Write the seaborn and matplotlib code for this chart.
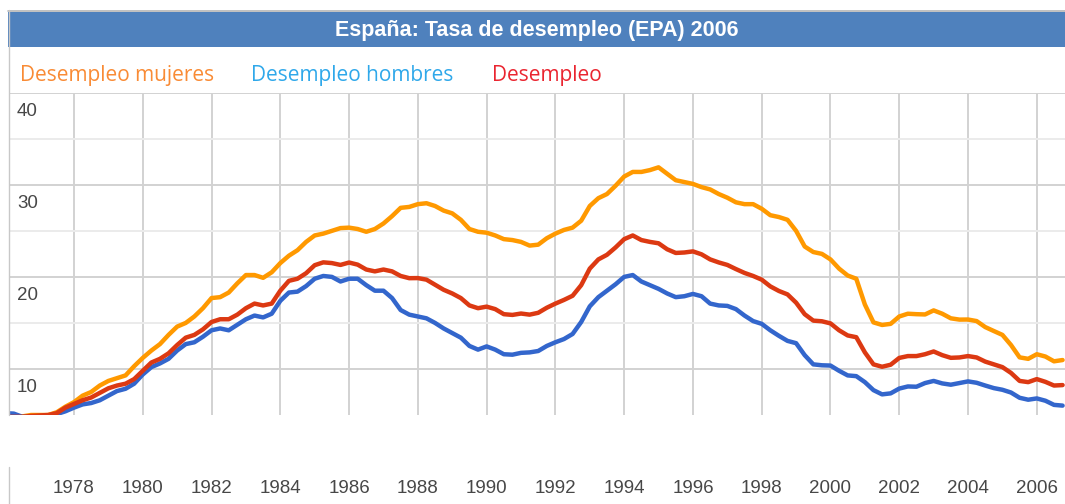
import matplotlib
matplotlib.use("Agg")
import matplotlib.pyplot as plt
from matplotlib.lines import Line2D
from matplotlib.patches import Rectangle
import pandas as pd
import seaborn as sns

# ------------------------------------------------------------------
# Datos: tasa de paro EPA por trimestre (4 valores por año, 1976-2006)
# ------------------------------------------------------------------
years = list(range(1976, 2007))
quarters = [y + q / 4 for y in years for q in range(4)]

paro_mujeres = [
    4.8, 4.8, 4.85, 5.0,      # 1976
    5.0, 5.0, 5.3, 5.9,       # 1977
    6.4, 7.1, 7.5, 8.2,       # 1978
    8.7, 9.0, 9.3, 10.3,      # 1979
    11.2, 12.0, 12.7, 13.7,   # 1980
    14.6, 15.0, 15.7, 16.6,   # 1981
    17.7, 17.8, 18.3, 19.3,   # 1982
    20.2, 20.2, 19.9, 20.5,   # 1983
    21.5, 22.3, 22.9, 23.8,   # 1984
    24.5, 24.7, 25.0, 25.3,   # 1985
    25.35, 25.2, 24.9, 25.2,  # 1986
    25.8, 26.6, 27.5, 27.6,   # 1987
    27.9, 28.0, 27.7, 27.2,   # 1988
    26.9, 26.2, 25.2, 24.9,   # 1989
    24.8, 24.5, 24.1, 24.0,   # 1990
    23.8, 23.4, 23.5, 24.2,   # 1991
    24.7, 25.1, 25.35, 26.1,  # 1992
    27.7, 28.55, 29.0, 29.9,  # 1993
    30.9, 31.4, 31.4, 31.6,   # 1994
    31.9, 31.2, 30.5, 30.3,   # 1995
    30.1, 29.75, 29.5, 29.0,  # 1996
    28.6, 28.1, 27.9, 27.9,   # 1997
    27.4, 26.7, 26.5, 26.2,   # 1998
    25.0, 23.3, 22.7, 22.5,   # 1999
    21.9, 20.9, 20.15, 19.8,  # 2000
    17.0, 15.06, 14.78, 14.9, # 2001
    15.7, 16.0, 15.95, 15.92, # 2002
    16.36, 16.0, 15.5, 15.36, # 2003
    15.37, 15.2, 14.55, 14.12, # 2004
    13.7, 12.6, 11.26, 11.1,  # 2005
    11.6, 11.35, 10.83, 10.97, # 2006
]

paro_hombres = [
    5.2, 5.15, 4.8, 4.8,      # 1976
    4.8, 4.85, 5.1, 5.4,      # 1977
    5.8, 6.15, 6.3, 6.6,      # 1978
    7.1, 7.6, 7.85, 8.4,      # 1979
    9.4, 10.2, 10.6, 11.1,    # 1980
    12.0, 12.7, 12.9, 13.5,   # 1981
    14.2, 14.4, 14.2, 14.8,   # 1982
    15.4, 15.8, 15.6, 16.0,   # 1983
    17.4, 18.3, 18.4, 19.0,   # 1984
    19.8, 20.1, 20.0, 19.5,   # 1985
    19.8, 19.8, 19.1, 18.5,   # 1986
    18.5, 17.7, 16.4, 15.9,   # 1987
    15.7, 15.5, 15.0, 14.4,   # 1988
    13.9, 13.4, 12.5, 12.1,   # 1989
    12.45, 12.1, 11.6, 11.55, # 1990
    11.75, 11.8, 11.95, 12.5, # 1991
    12.9, 13.25, 13.8, 15.1,  # 1992
    16.8, 17.8, 18.5, 19.2,   # 1993
    20.0, 20.2, 19.5, 19.1,   # 1994
    18.7, 18.2, 17.8, 17.9,   # 1995
    18.15, 17.9, 17.1, 16.9,  # 1996
    16.85, 16.5, 15.8, 15.2,  # 1997
    14.9, 14.2, 13.6, 13.05,  # 1998
    12.8, 11.5, 10.5, 10.4,   # 1999
    10.37, 9.8, 9.3, 9.22,    # 2000
    8.57, 7.7, 7.24, 7.35,    # 2001
    7.87, 8.1, 8.07, 8.47,    # 2002
    8.7, 8.43, 8.29, 8.47,    # 2003
    8.65, 8.5, 8.2, 7.92,     # 2004
    7.74, 7.44, 6.87, 6.66,   # 2005
    6.8, 6.55, 6.1, 6.02,     # 2006
]

paro_total = [
    4.8, 4.8, 4.8, 4.9,       # 1976
    4.95, 5.0, 5.2, 5.8,      # 1977
    6.2, 6.6, 6.9, 7.4,       # 1978
    7.9, 8.2, 8.4, 8.9,       # 1979
    9.8, 10.7, 11.1, 11.7,    # 1980
    12.6, 13.4, 13.7, 14.3,   # 1981
    15.1, 15.4, 15.4, 15.9,   # 1982
    16.6, 17.1, 16.9, 17.1,   # 1983
    18.5, 19.57, 19.8, 20.4,  # 1984
    21.27, 21.58, 21.5, 21.3, # 1985
    21.56, 21.33, 20.8, 20.6, # 1986
    20.8, 20.6, 20.1, 19.86,  # 1987
    19.87, 19.7, 19.15, 18.6, # 1988
    18.2, 17.7, 16.9, 16.6,   # 1989
    16.77, 16.5, 15.95, 15.87, # 1990
    16.02, 15.9, 16.1, 16.65, # 1991
    17.1, 17.5, 17.95, 19.1,  # 1992
    20.9, 21.9, 22.4, 23.2,   # 1993
    24.1, 24.5, 24.0, 23.8,   # 1994
    23.65, 23.0, 22.6, 22.65, # 1995
    22.77, 22.45, 21.9, 21.57, # 1996
    21.3, 20.85, 20.43, 20.1, # 1997
    19.7, 18.97, 18.47, 18.1, # 1998
    17.2, 15.95, 15.25, 15.18, # 1999
    14.95, 14.2, 13.64, 13.45, # 2000
    11.8, 10.5, 10.24, 10.46, # 2001
    11.2, 11.4, 11.4, 11.6,   # 2002
    11.9, 11.5, 11.21, 11.25, # 2003
    11.4, 11.25, 10.8, 10.5,  # 2004
    10.2, 9.57, 8.7, 8.57,    # 2005
    8.9, 8.6, 8.2, 8.25,      # 2006
]

series = ["Desempleo mujeres", "Desempleo hombres", "Desempleo"]
line_colors = ["#FF9900", "#3366CC", "#DC3912"]     # paleta por defecto de Google Charts
label_colors = ["#F98B35", "#2FA8EA", "#EA2530"]
x_ticks = list(range(1978, 2007, 2))
y_major = [10, 20, 30, 40]
y_minor = [15, 25, 35]

df = pd.DataFrame({
    "trimestre": quarters * 3,
    "tasa": paro_mujeres + paro_hombres + paro_total,
    "serie": [s for s in series for _ in quarters],
})

# ------------------------------------------------------------------
# Figura
# ------------------------------------------------------------------
sns.set_style("white")
plt.rcParams["font.family"] = ["Liberation Sans", "DejaVu Sans"]

W, H = 1065, 504
fig = plt.figure(figsize=(W / 100, H / 100), dpi=100)

# area del grafico en pixeles: x 9..1065, y 92.75..415
ax = fig.add_axes([9 / W, 1 - 415 / H, 1 - 9 / W, (415 - 92.75) / H])

sns.lineplot(data=df, x="trimestre", y="tasa", hue="serie", hue_order=series,
             palette=line_colors, linewidth=3.2, estimator=None, legend=False, ax=ax)

ax.set_xlim(1976.11, 2006.82)
ax.set_ylim(5, 40)
ax.set_xlabel("")
ax.set_ylabel("")

ax.set_xticks(x_ticks)
ax.set_xticklabels([str(t) for t in x_ticks])
ax.set_yticks(y_major)
ax.set_yticks(y_minor, minor=True)
ax.tick_params(axis="x", length=0, pad=46.5, labelsize=13.5, labelcolor="#474747")
ax.tick_params(axis="y", which="both", length=0, labelleft=False)

ax.grid(which="major", color="#d2d2d2", linewidth=1.4)
ax.grid(which="minor", axis="y", color="#ebebeb", linewidth=1.4)
ax.set_axisbelow(True)
for sp in ax.spines.values():
    sp.set_visible(False)

# etiquetas del eje y dentro del grafico, bajo cada linea
for v in y_major:
    ax.annotate(str(v), xy=(0, v), xycoords=ax.get_yaxis_transform(),
                xytext=(8, -10), textcoords="offset pixels",
                ha="left", va="top", fontsize=13.5, color="#474747")

# bordes de la ficha
fig.add_artist(Line2D([8 / W, 1], [1 - 10.5 / H] * 2, color="#b5b5b5", lw=1.2,
                      transform=fig.transFigure))
fig.add_artist(Line2D([8.5 / W] * 2, [1 - 10 / H, 1 - 415 / H], color="#c8c8c8", lw=1,
                      transform=fig.transFigure))
fig.add_artist(Line2D([8.5 / W] * 2, [1 - 467 / H, 0], color="#c8c8c8", lw=1,
                      transform=fig.transFigure))

# barra de titulo
fig.add_artist(Rectangle((8 / W, 1 - 46.5 / H), 1, 35 / H, transform=fig.transFigure,
                         facecolor="#4F81BD", edgecolor="none"))
fig.text(537 / W, 1 - 36 / H, "España: Tasa de desempleo (EPA) 2006", color="white",
         fontsize=15.5, fontweight="bold", ha="center", va="baseline")

# leyenda como texto coloreado
legend_x = [20, 251, 492]
for name, col, lx in zip(series, label_colors, legend_x):
    fig.text(lx / W, 1 - 81.5 / H, name, color=col, fontsize=15,
             family=["Open Sans", "DejaVu Sans"], ha="left", va="baseline")

fig.savefig("out.png", dpi=100)
